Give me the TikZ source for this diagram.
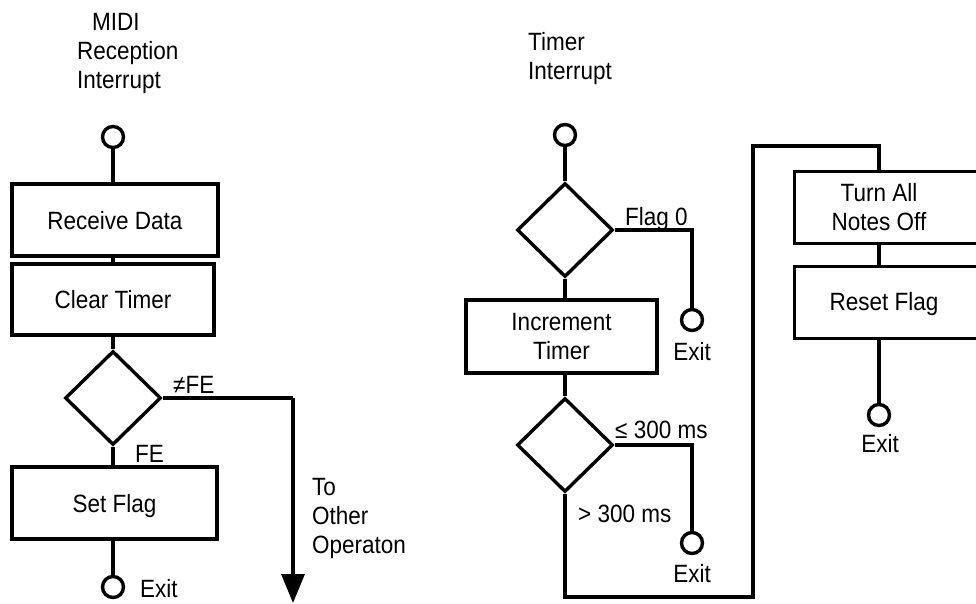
\documentclass[tikz,border=0pt]{standalone}
\usepackage{fontspec}
\setmainfont{Liberation Sans}[FakeStretch=0.9]
\usetikzlibrary{shapes.geometric,arrows.meta}
\begin{document}
\begin{tikzpicture}[x=1pt,y=-1pt,
  every node/.style={font=\fontsize{25}{29}\selectfont, inner sep=0pt},
  ln/.style={line width=3.4pt},
  boxnode/.style={draw, line width=3.4pt, align=center},
  onebox/.style={boxnode, text height=18pt, text depth=0pt},
  dia/.style={draw, diamond, line width=3.4pt, minimum width=96pt, minimum height=94pt},
  term/.style={draw, circle, line width=3.4pt, minimum size=21pt},
  lbl/.style={anchor=base west},
  ttl/.style={anchor=north west, align=left},
  arr/.style={ln, -{Triangle[length=29pt,width=23pt]}}]
\useasboundingbox (0,0) rectangle (976,604);
\clip (0,0) rectangle (976,604);
% ---- left flowchart ----
\node[ttl] (t1) at (77,13) {\hspace{15pt}MIDI\\Reception\\Interrupt};
\node[term] (s1) at (113,137) {};
\node[onebox, minimum width=206pt, minimum height=72pt] (recv) at (115,220) {Receive Data};
\node[onebox, minimum width=202pt, minimum height=71pt] (clr) at (113,299.5) {Clear Timer};
\node[dia] (d1) at (113,398) {};
\node[onebox, minimum width=205pt, minimum height=72pt] (setf) at (114.5,503) {Set Flag};
\node[term] (e1) at (113,587) {};
\node[lbl, text depth=0pt] (e1t) at (140,597) {Exit};
\node[lbl] (ne) at (173,393) {≠FE};
\node[lbl] (fe) at (135,462) {FE};
\node[ttl] (oth) at (312,478) {To\\Other\\Operaton};
\coordinate (c1) at (293,398);
\coordinate (c2) at (293,603);
\draw[ln] (s1.south) -- (s1.south |- recv.north);
\draw[ln] (s1.south |- recv.south) -- (s1.south |- clr.north);
\draw[ln] (s1.south |- clr.south) -- (d1.north);
\draw[ln] (d1.south) -- (d1.south |- setf.north);
\draw[ln] (d1.south |- setf.south) -- (e1.north);
\draw[ln] (d1.east) -- (c1);
\draw[arr] (c1) -- (c2);
% ---- right flowchart ----
\node[ttl] (t2) at (528,32) {Timer\\Interrupt};
\node[term] (s2) at (565,135) {};
\node[dia] (d2) at (565,230) {};
\node[lbl] (fl0) at (625,225) {Flag 0};
\node[term] (ea) at (692,320) {};
\node[anchor=base] (eat) at (692,360) {Exit};
\node[boxnode, minimum width=191pt, minimum height=73pt] (incr) at (561.5,336.5) {Increment\\Timer};
\node[dia] (d3) at (565,445) {};
\node[lbl] (le) at (615,438) {≤ 300 ms};
\node[lbl] (gt) at (578,522) {> 300 ms};
\node[term] (eb) at (692,543) {};
\node[anchor=base] (ebt) at (692,582) {Exit};
\node[draw, line width=3.4pt, minimum width=200pt, minimum height=72pt, anchor=north west] (turnbox) at (793,170) {};
\node[align=center] (turn) at (879,207) {Turn All\\Notes Off};
\node[draw, line width=3.4pt, minimum width=200pt, minimum height=72pt, anchor=north west] (resbox) at (793,265) {};
\node[text height=18pt, text depth=0pt] (res) at (884,301) {Reset Flag};
\node[term] (ec) at (879,415) {};
\node[anchor=base] (ect) at (880,452) {Exit};
\coordinate (b1) at (565,597);
\coordinate (b2) at (753,597);
\coordinate (b3) at (753,146);
\coordinate (b4) at (879,146);
\draw[ln] (s2.south) -- (d2.north);
\draw[ln] (d2.east) -| (ea.north);
\draw[ln] (d2.south) -- (d2.south |- incr.north);
\draw[ln] (d2.south |- incr.south) -- (d3.north);
\draw[ln] (d3.east) -| (eb.north);
\draw[ln] (d3.south) -- (b1) -- (b2) -- (b3) -- (b4) -- (b4 |- turnbox.north);
\draw[ln] (b4 |- turnbox.south) -- (b4 |- resbox.north);
\draw[ln] (b4 |- resbox.south) -- (ec.north);
\end{tikzpicture}
\end{document}
